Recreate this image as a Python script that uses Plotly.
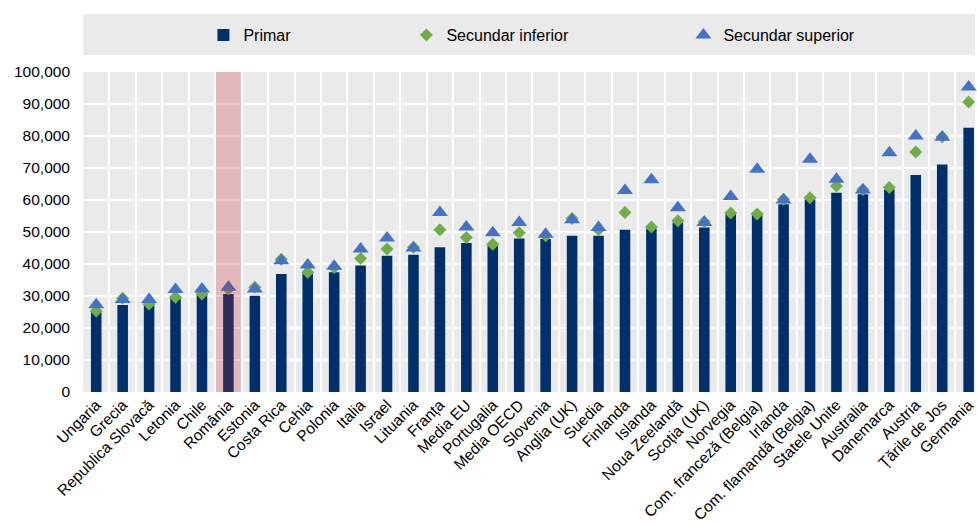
import plotly.graph_objects as go

categories = ["Ungaria", "Grecia", "Republica Slovacă", "Letonia", "Chile", "România", "Estonia",
              "Costa Rica", "Cehia", "Polonia", "Italia", "Israel", "Lituania", "Franța", "Media EU",
              "Portugalia", "Media OECD", "Slovenia", "Anglia (UK)", "Suedia", "Finlanda", "Islanda",
              "Noua Zeelandă", "Scoția (UK)", "Norvegia", "Com. franceză (Belgia)", "Irlanda",
              "Com. flamandă (Belgia)", "Statele Unite", "Australia", "Danemarca", "Austria",
              "Țările de Jos", "Germania"]

primar = [25000, 27200, 27500, 29900, 30600, 30600, 30100, 36900, 37400, 37400, 39500, 42600,
          42900, 45200, 46600, 46200, 48000, 47800, 48800, 48800, 50700, 51000, 53000, 51400,
          55600, 56100, 58700, 60200, 62300, 61800, 63300, 67800, 71100, 82600]

secundar_inferior = [25300, 29300, 27500, 29600, 30600, 32200, 32700, 41500, 37400, 38900, 41700,
                     44700, 45200, 50700, 48300, 46200, 49800, 48800, 54200, 50700, 56100, 51600,
                     53500, 53200, 55900, 55600, 60200, 60700, 64400, 63300, 63900, 75000, 79800,
                     90600]

secundar_superior = [27300, 28900, 28900, 32000, 32200, 32700, 32200, 41000, 39700, 39300, 44700,
                     48100, 45000, 56100, 51600, 49800, 53000, 49300, 53800, 51400, 63000, 66300,
                     57600, 53000, 61100, 69600, 60000, 72700, 66500, 63100, 74800, 80000, 79600,
                     95300]

highlight = "România"

fig = go.Figure()
fig.add_trace(go.Bar(x=categories, y=primar, name="Primar", marker_color="#002f6c",
                     marker_line_width=0, width=0.4, legendwidth=158))
fig.add_trace(go.Scatter(x=categories, y=secundar_inferior, name="Secundar inferior", mode="markers",
                         marker=dict(symbol="diamond", size=10, color="#70ad47"), legendwidth=232,
                         cliponaxis=False))
fig.add_trace(go.Scatter(x=categories, y=secundar_superior, name="Secundar superior", mode="markers",
                         marker=dict(symbol="triangle-up", size=14, color="#4472c4"),
                         cliponaxis=False))

hi = categories.index(highlight)
fig.add_shape(type="rect", xref="x", yref="paper", x0=hi - 0.47, x1=hi + 0.47, y0=0, y1=1,
              fillcolor="rgba(195,30,40,0.24)", line_width=0, layer="above")
# legend band
fig.add_shape(type="rect", xref="paper", yref="paper", x0=0, x1=1, y0=1.053, y1=1.181,
              fillcolor="#eaeaea", line_width=0, layer="below")

fig.update_layout(
    width=977, height=523,
    margin=dict(l=83, r=0, t=72, b=130),
    paper_bgcolor="white", plot_bgcolor="#eaeaea",
    font=dict(family="Liberation Sans, Arial, sans-serif", size=15, color="#000000"),
    bargap=0.6,
    showlegend=True,
    legend=dict(orientation="h", x=0.135, xanchor="left", y=1.115, yanchor="middle",
                bgcolor="rgba(0,0,0,0)", font=dict(size=16), itemwidth=30),
    xaxis=dict(type="category", range=[-0.5, 33.24], tickangle=-45, showgrid=True,
               gridcolor="white", gridwidth=2, tickson="boundaries", ticks="",
               tickfont=dict(size=15.5), zeroline=False, showline=False),
    yaxis=dict(range=[0, 100000], dtick=10000, tickformat=",d", showgrid=True, gridcolor="white",
               gridwidth=2, zeroline=False, ticks="", ticklabelstandoff=12, tickfont=dict(size=15.5)),
)

fig.write_html("out.html")
